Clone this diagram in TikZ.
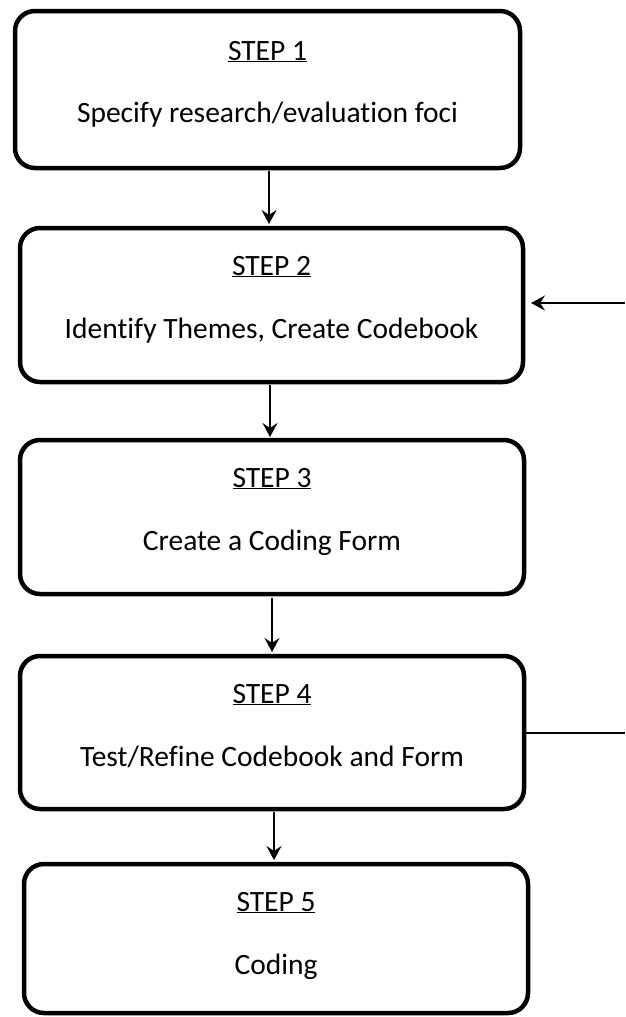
\documentclass[tikz,border=0pt]{standalone}
\usepackage{fontspec}
\setmainfont{Carlito}[Ligatures={NoCommon}]
\usetikzlibrary{arrows.meta,calc}
\begin{document}
\begin{tikzpicture}[x=1pt,y=1pt,
  stepbox/.style={draw=black,line width=4.5pt,rounded corners=20pt,outer sep=0pt,inner sep=0pt,fill=white},
  steplabel/.style={anchor=base,inner sep=0pt,font=\fontsize{29.5}{34}\selectfont},
  arr/.style={line width=2.8pt,-{Stealth[length=14pt,width=15pt,inset=5pt]}},
  conn/.style={line width=2.8pt}]
\fill[white] (0,0) rectangle (625,-1017);
\useasboundingbox (0,0) rectangle (625,-1017);
% boxes
\node[stepbox,minimum width=505pt,minimum height=157pt] (b1) at (267.5,-89.5) {};
\node[stepbox,minimum width=503pt,minimum height=154pt] (b2) at (271.5,-305) {};
\node[stepbox,minimum width=504pt,minimum height=154pt] (b3) at (272,-517) {};
\node[stepbox,minimum width=504pt,minimum height=153pt] (b4) at (272,-732.5) {};
\node[stepbox,minimum width=504pt,minimum height=149pt] (b5) at (276,-938.5) {};
% labels
\node[steplabel] (s1) at ($(b1.north)+(0,-49)$) {\underline{STEP 1}};
\node[steplabel] (t1) at ($(b1.north)+(0,-111)$) {Specify research/evaluation foci};
\node[steplabel] (s2) at ($(b2.north)+(0,-47)$) {\underline{STEP 2}};
\node[steplabel] (t2) at ($(b2.north)+(0,-110)$) {Identify Themes, Create Codebook};
\node[steplabel] (s3) at ($(b3.north)+(0,-47)$) {\underline{STEP 3}};
\node[steplabel] (t3) at ($(b3.north)+(0,-110)$) {Create a Coding Form};
\node[steplabel] (s4) at ($(b4.north)+(0,-47)$) {\underline{STEP 4}};
\node[steplabel] (t4) at ($(b4.north)+(0,-110)$) {Test/Refine Codebook and Form};
\node[steplabel] (s5) at ($(b5.north)+(0,-47)$) {\underline{STEP 5}};
\node[steplabel] (t5) at ($(b5.north)+(0,-110)$) {Coding};
% vertical arrows
\coordinate (x1) at (269,0);
\coordinate (x2) at (270,0);
\coordinate (x3) at (272,0);
\coordinate (x4) at (274,0);
\draw[arr,shorten <=3pt,shorten >=4pt] (x1 |- b1.south) -- (x1 |- b2.north);
\draw[arr,shorten <=3pt,shorten >=3pt] (x2 |- b2.south) -- (x2 |- b3.north);
\draw[arr,shorten <=4pt,shorten >=4pt] (x3 |- b3.south) -- (x3 |- b4.north);
\draw[arr,shorten <=3pt,shorten >=4pt] (x4 |- b4.south) -- (x4 |- b5.north);
% right side
\coordinate (r2) at (625,-303);
\coordinate (r4) at (625,-733);
\draw[arr,shorten >=8pt] (r2) -- (r2 -| b2.east);
\draw[conn] (r4 -| b4.east) -- (r4);
\end{tikzpicture}
\end{document}
